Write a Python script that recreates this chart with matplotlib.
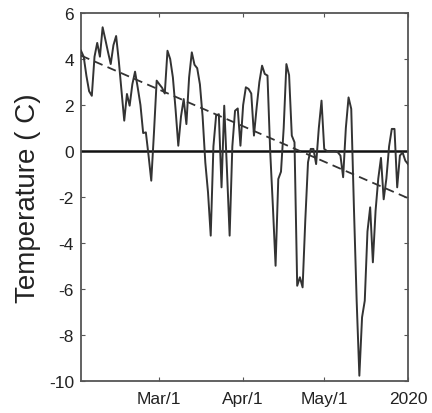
import matplotlib
matplotlib.use("Agg")
import matplotlib.pyplot as plt
import matplotlib.dates as mdates
import numpy as np
import datetime as dt

plt.rcParams['font.family'] = ['Liberation Sans', 'DejaVu Sans']
plt.rcParams['axes.unicode_minus'] = False

start_date = dt.date(2020, 2, 1)
temps = [
    4.36, 4.1, 3.27, 2.6, 2.4, 4.1, 4.7, 4.1, 5.38, 4.85,
    4.3, 3.78, 4.6, 5.0, 3.9, 2.6, 1.32, 2.48, 1.97, 2.9,
    3.45, 2.75, 2.0, 0.78, 0.81, -0.2, -1.29, 0.8, 3.06, 2.9,
    2.75, 2.5, 4.36, 4.0, 3.2, 1.8, 0.23, 1.5, 2.26, 1.17,
    3.2, 4.29, 3.75, 3.6, 2.9, 1.5, -0.5, -1.8, -3.68, 0.2,
    1.55, 1.6, -1.58, 1.97, -0.8, -3.68, 0.2, 1.75, 1.85, 0.23,
    2.0, 2.77, 2.7, 2.5, 0.67, 1.9, 3.0, 3.71, 3.35, 3.28,
    0.0, -2.4, -4.99, -1.22, -0.9, 1.0, 3.78, 3.3, 0.67, 0.38,
    -5.86, -5.49, -5.93, -3.0, -0.49, 0.09, 0.09, -0.57, 1.0, 2.19,
    0.09, 0.0, 0.0, 0.0, 0.0, -0.05, -0.2, -1.14, 1.0, 2.33,
    1.83, -2.5, -6.5, -9.77, -7.23, -6.51, -3.5, -2.45, -4.84, -2.6,
    -1.2, -0.3, -2.1, -1.2, 0.2, 0.96, 0.96, -1.58, -0.2, -0.06,
    -0.42, -0.57,
]
trend_values = [4.15, -2.05]
tick_dates = [dt.date(2020, 3, 1), dt.date(2020, 4, 1), dt.date(2020, 5, 1), dt.date(2020, 6, 1)]
tick_labels = ['Mar/1', 'Apr/1', 'May/1', '2020']
yticks = [-10, -8, -6, -4, -2, 0, 2, 4, 6]

dates = [start_date + dt.timedelta(days=i) for i in range(len(temps))]
trend_dates = [dates[0], dates[-1]]

fig = plt.figure(figsize=(4.32, 4.14), dpi=100)
ax = fig.add_axes([81/432, 1-382/414, (408-81)/432, (382-14)/414])

ax.axhline(0, color='#111111', lw=1.8, zorder=2)
ax.plot(dates, temps, color='#333333', lw=1.4, zorder=3)
ax.plot(trend_dates, trend_values, color='#333333', lw=1.3, ls=(0, (5, 3)), zorder=4)

ax.set_xlim(dates[0], dates[-1])
ax.set_ylim(-10, 6)
ax.set_yticks(yticks)
ax.set_xticks(tick_dates)
ax.set_xticklabels(tick_labels)
ax.tick_params(direction='in', length=3, width=0.8, color='#555555',
               labelsize=12.5, labelcolor='#222222', top=True, right=True)
ax.tick_params(axis='x', pad=7)
ax.tick_params(axis='y', pad=5)
for s in ax.spines.values():
    s.set_color('#555555')
    s.set_linewidth(1.3)
ax.set_ylabel('Temperature ( C)', fontsize=20, color='#222222', labelpad=6)

fig.savefig('out.png', dpi=100)
